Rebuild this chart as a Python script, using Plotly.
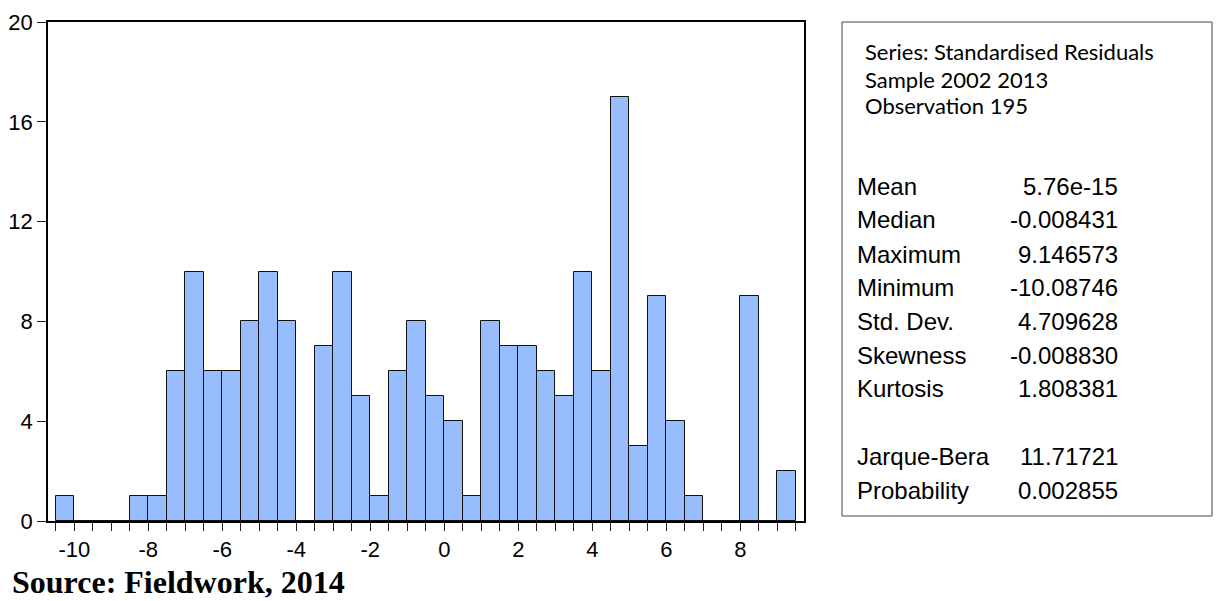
import plotly.graph_objects as go

# ---- data ----
bin_left = [-10.5, -10.0, -9.5, -9.0, -8.5, -8.0, -7.5, -7.0, -6.5, -6.0,
            -5.5, -5.0, -4.5, -4.0, -3.5, -3.0, -2.5, -2.0, -1.5, -1.0,
            -0.5, 0.0, 0.5, 1.0, 1.5, 2.0, 2.5, 3.0, 3.5, 4.0,
            4.5, 5.0, 5.5, 6.0, 6.5, 7.0, 7.5, 8.0, 8.5, 9.0]
counts = [1, 0, 0, 0, 1, 1, 6, 10, 6, 6,
          8, 10, 8, 0, 7, 10, 5, 1, 6, 8,
          5, 4, 1, 8, 7, 7, 6, 5, 10, 6,
          17, 3, 9, 4, 1, 0, 0, 9, 0, 2]
bin_width = 0.5
x_tick_labels = [-10, -8, -6, -4, -2, 0, 2, 4, 6, 8]
y_tick_vals = [0, 4, 8, 12, 16, 20]

header_lines = ["Series: Standardised Residuals", "Sample 2002 2013", "Observation 195"]
stat_names = ["Mean", "Median", "Maximum", "Minimum", "Std. Dev.", "Skewness", "Kurtosis",
              "Jarque-Bera", "Probability"]
stat_values = ["5.76e-15", "-0.008431", "9.146573", "-10.08746", "4.709628", "-0.008830",
               "1.808381", "11.71721", "0.002855"]
source_text = "Source: Fieldwork, 2014"

# ---- layout geometry ----
W, H = 1219, 601
L, R, T, B = 48, 804, 22, 521
PW, PH = R - L, B - T


def px(x):
    return (x - L) / PW


def py(y):
    return (B - y) / PH


centers = [b + bin_width / 2 for b in bin_left]
tickvals = [-10.5 + 0.5 * i for i in range(41)]
ticktext = [str(int(v)) if (float(v).is_integer() and int(v) in x_tick_labels) else "" for v in tickvals]

fig = go.Figure()
fig.add_trace(go.Bar(
    x=centers, y=counts, width=bin_width,
    marker=dict(color="#97BDFD", line=dict(color="#111111", width=1)),
    showlegend=False,
))

fig.update_layout(
    width=W, height=H,
    margin=dict(l=L, r=W - R, t=T, b=H - B, autoexpand=False),
    paper_bgcolor="white", plot_bgcolor="white",
    bargap=0,
    font=dict(family="Liberation Sans, Arial", size=22, color="black"),
    xaxis=dict(range=[-10.71, 9.72], tickvals=tickvals, ticktext=ticktext,
               ticks="outside", ticklen=8, tickcolor="#222", tickwidth=1,
               showline=True, linecolor="black", linewidth=1.5, mirror=True,
               showgrid=False, zeroline=False,
               tickfont=dict(family="Liberation Sans, Arial", size=22)),
    yaxis=dict(range=[0, 20], tickvals=y_tick_vals,
               ticks="outside", ticklen=9, tickcolor="#222", tickwidth=1,
               showline=True, linecolor="black", linewidth=1.5, mirror=True,
               showgrid=False, zeroline=False,
               tickfont=dict(family="Liberation Sans, Arial", size=22)),
)

# stats box
fig.add_shape(type="rect", xref="paper", yref="paper",
              x0=px(842), x1=px(1212), y0=py(516), y1=py(22),
              line=dict(color="#444444", width=1), fillcolor="rgba(0,0,0,0)")

header_y = [52, 79, 106]
for txt, yy in zip(header_lines, header_y):
    fig.add_annotation(text=txt, xref="paper", yref="paper", x=px(863), y=py(yy),
                       xanchor="left", yanchor="middle", showarrow=False,
                       font=dict(family="Lato, Open Sans", size=22, color="black"))

stat_y = [186, 220, 254, 287, 321, 355, 388, 456, 490]
for name, val, yy in zip(stat_names, stat_values, stat_y):
    fig.add_annotation(text=name, xref="paper", yref="paper", x=px(855), y=py(yy),
                       xanchor="left", yanchor="middle", showarrow=False,
                       font=dict(family="Liberation Sans, Arial", size=24, color="black"))
    fig.add_annotation(text=val, xref="paper", yref="paper", x=px(1120), y=py(yy),
                       xanchor="right", yanchor="middle", showarrow=False,
                       font=dict(family="Liberation Sans, Arial", size=24, color="black"))

fig.add_annotation(text="<b>" + source_text + "</b>", xref="paper", yref="paper",
                   x=px(10), y=py(582), xanchor="left", yanchor="middle", showarrow=False,
                   font=dict(family="Liberation Serif, Times New Roman", size=32, color="black"))

fig.write_html("out.html", config={"displayModeBar": False},
               post_script="document.body.style.margin='0px';document.body.style.overflow='hidden';")
